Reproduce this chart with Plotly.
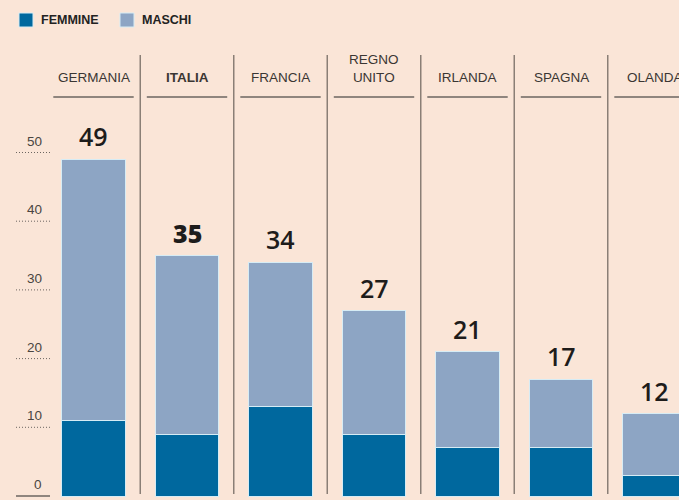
import plotly.graph_objects as go

paesi = ["GERMANIA", "ITALIA", "FRANCIA", "REGNO<br>UNITO", "IRLANDA", "SPAGNA", "OLANDA"]
femmine = [11, 9, 13, 9, 7, 7, 3]
totali = [49, 35, 34, 27, 21, 17, 12]
maschi = [t - f for t, f in zip(totali, femmine)]
y_ticks = [0, 10, 20, 30, 40, 50]
serie = ["FEMMINE", "MASCHI"]

BG = "#FAE5D7"
C_F = "#00689E"
C_M = "#8DA5C4"
SEP = "#8a7f76"
TXT = "#3a3633"
colori = [C_F, C_M]

xs = list(range(len(paesi)))

fig = go.Figure()
for nome, vals, col in zip(serie, [femmine, maschi], colori):
    fig.add_trace(go.Bar(x=xs, y=vals, name=nome, showlegend=False, hoverinfo="skip",
                         marker=dict(color=col, line=dict(color="#d6ecf5", width=1)),
                         width=0.675))

shapes = []
annotations = []

# custom legend
leg_x = [19, 120]
for nome, col, lx in zip(serie, colori, leg_x):
    shapes.append(dict(type="rect", xref="paper", yref="paper",
                       x0=lx / 679, x1=(lx + 14) / 679, y0=1 - 27 / 500, y1=1 - 13 / 500,
                       fillcolor=col, line=dict(color="#d6ecf5", width=1)))
    annotations.append(dict(x=(lx + 20) / 679, xref="paper", xanchor="left",
                            y=1 - 20 / 500, yref="paper", yanchor="middle",
                            text=nome, showarrow=False,
                            font=dict(family="Liberation Sans, Arial", size=12.5, color="#222",
                                      weight="bold")))

# separators between columns
for i in range(len(paesi) - 1):
    shapes.append(dict(type="line", xref="x", yref="paper", x0=i + 0.5, x1=i + 0.5,
                       y0=1 - 494 / 500, y1=1 - 55 / 500, line=dict(color=SEP, width=1.5)))

# header underlines and labels
for i, p in enumerate(paesi):
    shapes.append(dict(type="line", xref="x", yref="paper", x0=i - 0.43, x1=i + 0.43,
                       y0=1 - 97 / 500, y1=1 - 97 / 500, line=dict(color="#6b6560", width=1.5)))
    bold = p == "ITALIA"
    annotations.append(dict(x=i, xref="x", y=1 - 87 / 500, yref="paper", yanchor="bottom",
                            text=f"<b>{p}</b>" if bold else p, showarrow=False,
                            font=dict(family="Liberation Sans, Arial", size=13.5, color=TXT)))

# value labels
for i, t in enumerate(totali):
    ita = paesi[i] == "ITALIA"
    annotations.append(dict(x=i, y=t, xref="x", yref="y", yanchor="bottom", yshift=4,
                            text=str(t), showarrow=False,
                            font=dict(family="Open Sans", size=25, color="#1e1c1b",
                                      weight=800 if ita else 600)))

# y ticks
for v in y_ticks:
    shapes.append(dict(type="line", xref="paper", yref="y", x0=16 / 679, x1=50 / 679, y0=v, y1=v,
                       line=dict(color="#6b6560", width=1 if v else 1.5,
                                 dash="1px,2px" if v else "solid")))
    annotations.append(dict(x=44 / 679, xref="paper", xanchor="right", y=v, yref="y", yanchor="bottom",
                            yshift=2, text=str(v), showarrow=False,
                            font=dict(family="Liberation Sans, Arial", size=13.5, color="#4a4541")))

fig.update_layout(
    width=679, height=500,
    barmode="stack",
    paper_bgcolor=BG, plot_bgcolor=BG,
    margin=dict(l=0, r=0, t=0, b=0),
    xaxis=dict(range=[-1, 679 / 93.5 - 1], visible=False, fixedrange=True),
    yaxis=dict(range=[-4 / 6.87, 496 / 6.87], visible=False, fixedrange=True),
    shapes=shapes,
    annotations=annotations,
    showlegend=False,
    hovermode=False,
    font=dict(family="Liberation Sans, Arial"),
)

fig.write_html("out.html", config={"displayModeBar": False},
               post_script="document.body.style.margin='0';document.body.style.overflow='hidden';")
